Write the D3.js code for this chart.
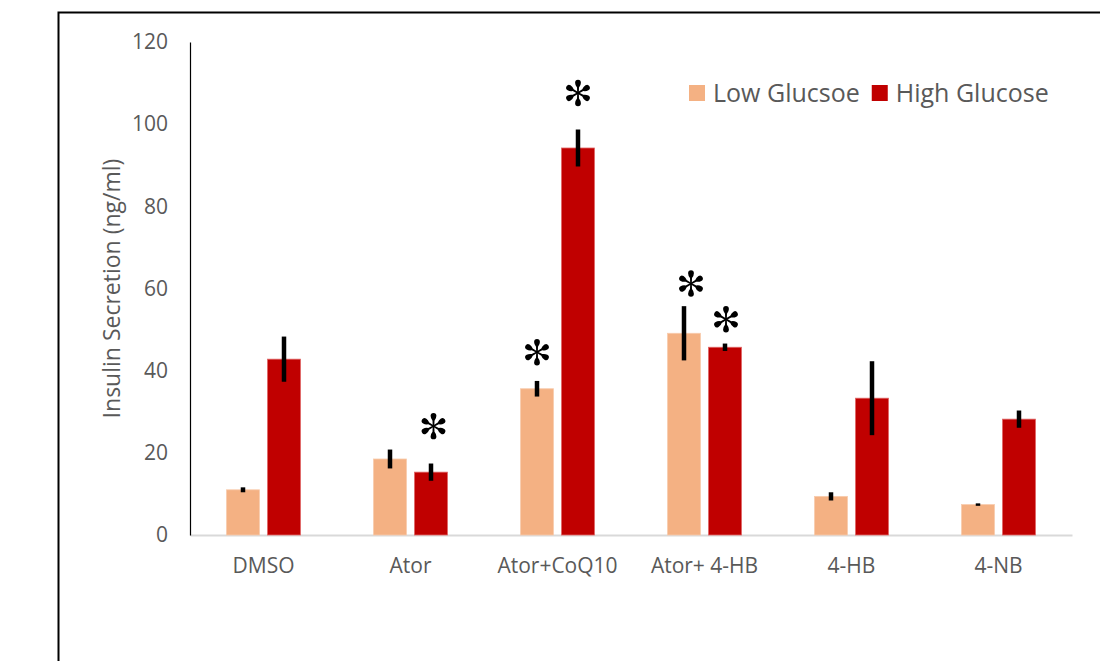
<!DOCTYPE html>
<html>
<head>
<meta charset="utf-8">
<script src="https://cdn.jsdelivr.net/npm/d3@7"></script>
<style>
  html, body { margin: 0; padding: 0; background: #fff; }
  svg { display: block; font-family: "Open Sans", sans-serif; }
</style>
</head>
<body>
<svg id="chart" width="1100" height="661"></svg>
<script>
// Treatment groups along the x axis
const categories = ["DMSO", "Ator", "Ator+CoQ10", "Ator+ 4-HB", "4-HB", "4-NB"];

// Series names (legend text) and keys
const seriesKeys = ["low", "high"];
const seriesNames = ["Low Glucsoe", "High Glucose"];

// Mean insulin secretion (ng/ml)
const lowGlucose  = [11.0, 18.5, 35.6, 49.1, 9.4, 7.4];
const highGlucose = [42.8, 15.3, 94.2, 45.7, 33.3, 28.2];

// Error (± ng/ml)
const lowError  = [0.6, 2.3, 1.9, 6.6, 1.0, 0.3];
const highError = [5.5, 2.1, 4.5, 0.9, 9.0, 2.1];

// y-axis ticks
const yTicks = [0, 20, 40, 60, 80, 100, 120];

// Significance marks: [category, series, height in ng/ml]
const significance = [
  ["Ator", "high", 26.5],
  ["Ator+CoQ10", "low", 44.5],
  ["Ator+CoQ10", "high", 107.6],
  ["Ator+ 4-HB", "low", 61.2],
  ["Ator+ 4-HB", "high", 52.5]
];

const colors = { low: "#F4B183", high: "#C00000" };
const textColor = "#595959";

const svg = d3.select("#chart");

// Outer frame
svg.append("rect")
  .attr("x", 58.5).attr("y", 12.5)
  .attr("width", 1200).attr("height", 1000)
  .attr("fill", "none").attr("stroke", "#000").attr("stroke-width", 2);

const x0 = 190, x1 = 1072, yBottom = 535, yTop = 42;

const x = d3.scaleBand().domain(categories).range([x0, x1]).padding(0);
const groupWidth = 74;
const xs = d3.scaleBand().domain(seriesKeys)
  .range([(x.bandwidth() - groupWidth) / 2, (x.bandwidth() + groupWidth) / 2])
  .paddingInner(8 / 41);
const y = d3.scaleLinear().domain([0, 120]).range([yBottom, yTop]);

const rows = categories.map((c, i) => ({
  cat: c,
  low: lowGlucose[i], high: highGlucose[i],
  lowErr: lowError[i], highErr: highError[i]
}));

// x axis (category labels, grey baseline)
const gx = svg.append("g")
  .attr("transform", `translate(0,${yBottom})`)
  .call(d3.axisBottom(x).tickSize(0).tickSizeOuter(0).tickPadding(23));
gx.select(".domain").attr("stroke", "#D9D9D9").attr("stroke-width", 2);
gx.selectAll("text").attr("fill", textColor).style("font-size", "21px")
  .style("font-family", "'Open Sans', sans-serif");

// y axis
const gy = svg.append("g")
  .attr("transform", `translate(${x0},0)`)
  .call(d3.axisLeft(y).tickValues(yTicks).tickSize(0).tickSizeOuter(0).tickPadding(22));
gy.select(".domain").attr("stroke", "#000").attr("stroke-width", 1.2);
gy.selectAll("text").attr("fill", textColor).style("font-size", "21px")
  .style("font-family", "'Open Sans', sans-serif");

// y-axis title
svg.append("text")
  .attr("transform", `translate(111,${(yTop + yBottom) / 2}) rotate(-90)`)
  .attr("text-anchor", "middle")
  .attr("dominant-baseline", "central")
  .attr("fill", textColor)
  .style("font-size", "23px")
  .text("Insulin Secretion (ng/ml)");

// bars
const groups = svg.append("g").selectAll("g")
  .data(rows).join("g")
  .attr("transform", d => `translate(${x(d.cat)},0)`);

groups.selectAll("rect")
  .data(d => seriesKeys.map(k => ({ key: k, value: d[k], err: d[k + "Err"] })))
  .join("rect")
  .attr("x", d => xs(d.key))
  .attr("width", xs.bandwidth())
  .attr("y", d => y(d.value))
  .attr("height", d => y(0) - y(d.value))
  .attr("fill", d => colors[d.key])
  .attr("stroke", d => d.key === "high" ? "#E06666" : "#F8CBAD")
  .attr("stroke-width", 0.8);

// error bars
groups.selectAll("line.err")
  .data(d => seriesKeys.map(k => ({ key: k, value: d[k], err: d[k + "Err"] })))
  .join("line")
  .attr("class", "err")
  .attr("x1", d => xs(d.key) + xs.bandwidth() / 2)
  .attr("x2", d => xs(d.key) + xs.bandwidth() / 2)
  .attr("y1", d => y(d.value - d.err))
  .attr("y2", d => y(d.value + d.err))
  .attr("stroke", "#000")
  .attr("stroke-width", 4.5);

// teardrop-spoked asterisk
const spoke = "M0,-0.8 L5.5,-1 Q7.8,-2.9 10.3,-2.9 A2.9,2.9 0 0 1 10.3,2.9 Q7.8,2.9 5.5,1 L0,0.8 Z";
const starNudge = { "Ator+ 4-HB|low": 7, "Ator|high": 2.5, "Ator+ 4-HB|high": 1 };
const stars = svg.append("g").selectAll("g")
  .data(significance).join("g")
  .attr("transform", d => {
    const cx = x(d[0]) + xs(d[1]) + xs.bandwidth() / 2 + (starNudge[d[0] + "|" + d[1]] || 0);
    return `translate(${cx},${y(d[2])})`;
  });
stars.selectAll("path")
  .data([-90, -30, 30, 90, 150, 210])
  .join("path")
  .attr("d", spoke)
  .attr("transform", a => `rotate(${a})`)
  .attr("fill", "#000");

// legend
const legend = svg.append("g");
let lx = 689;
seriesKeys.forEach((k, i) => {
  legend.append("rect")
    .attr("x", lx).attr("y", 85)
    .attr("width", 16).attr("height", 16)
    .attr("fill", colors[k]);
  const t = legend.append("text")
    .attr("x", lx + 24).attr("y", 101.5)
    .attr("fill", textColor)
    .style("font-size", "25px")
    .text(seriesNames[i]);
  lx += 24 + t.node().getComputedTextLength() + 12;
});
</script>
</body>
</html>
